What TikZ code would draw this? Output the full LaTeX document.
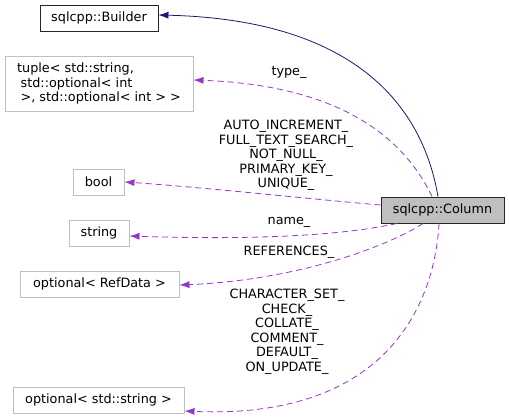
\documentclass[tikz,border=0pt]{standalone}
\usepackage{tikz}
\usetikzlibrary{arrows.meta, positioning}
\usepackage{xcolor}
\usepackage{fontspec}
\setmainfont{DejaVu Sans}
\definecolor{edgepurple}{RGB}{154,50,205}
\definecolor{edgenavy}{RGB}{25,25,112}
\definecolor{boxgray}{RGB}{191,191,191}

\begin{document}
\begin{tikzpicture}[
    x=1pt, y=-1pt,
    cls/.style={rectangle, draw=boxgray, line width=0.9pt, inner sep=0pt, font=\fontsize{12.8}{14.5}\selectfont},
    base/.style={rectangle, draw=black!85, line width=0.9pt, inner sep=0pt, font=\fontsize{12.8}{14.5}\selectfont},
    usage/.style={-{Latex[length=10pt, width=7pt]}, dashed, dash pattern=on 6pt off 4pt, edgepurple, line width=0.8pt},
    inherit/.style={-{Latex[length=10pt, width=7pt]}, edgenavy, line width=0.8pt},
    lbl/.style={align=center, inner sep=0pt, font=\fontsize{12.8}{14.5}\selectfont}
]
    \useasboundingbox (0,0) rectangle (509,419);

    % Classes
    \node[base, minimum width=118, minimum height=26] (builder) at (99,18) {sqlcpp::Builder};
    \node[cls, minimum width=188, minimum height=55, align=left] (tuple) at (99,83.5)
        {tuple< std::string,\\\hspace*{3.5pt}std::optional< int\\\hspace*{3.5pt}>, std::optional< int > >};
    \node[cls, minimum width=51, minimum height=26] (bool) at (98.5,182) {bool};
    \node[cls, minimum width=60, minimum height=26] (string) at (99,233) {string};
    \node[cls, minimum width=159, minimum height=26] (refdata) at (99.5,284) {optional< RefData >};
    \node[cls, minimum width=171, minimum height=26] (optstr) at (98.5,400) {optional< std::string >};
    \node[base, fill=boxgray, minimum width=123, minimum height=26] (column) at (442.5,210) {sqlcpp::Column};

    % Edges
    \draw[inherit] ([xshift=-4.5]column.north) .. controls (425,120) and (370,20) .. ([yshift=3]builder.east);
    \draw[usage] ([xshift=-10.5]column.north) .. controls (400,130) and (330,85) .. ([yshift=3.5]tuple.east);
    \draw[usage] ([yshift=5]column.west) .. controls (320,200) and (200,187) .. (bool.east);
    \draw[usage] ([xshift=-45.5]column.south) .. controls (340,236) and (250,240) .. ([yshift=-3]string.east);
    \draw[usage] ([xshift=-19.5]column.south) .. controls (390,245) and (300,280) .. ([yshift=-1]refdata.east);
    \draw[usage] ([xshift=-3.5]column.south) .. controls (435,300) and (390,420) .. ([yshift=-11]optstr.east);

    % Labels
    \node[lbl] (ltype) at (289,73) {type\_};
    \node[lbl] (lbool) at (286,155.5) {AUTO\_INCREMENT\_\\FULL\_TEXT\_SEARCH\_\\NOT\_NULL\_\\PRIMARY\_KEY\_\\UNIQUE\_};
    \node[lbl] (lname) at (289,222) {name\_};
    \node[lbl] (lref) at (289,252) {REFERENCES\_};
    \node[lbl] (lopt) at (287,332) {CHARACTER\_SET\_\\CHECK\_\\COLLATE\_\\COMMENT\_\\DEFAULT\_\\ON\_UPDATE\_};
\end{tikzpicture}
\end{document}
